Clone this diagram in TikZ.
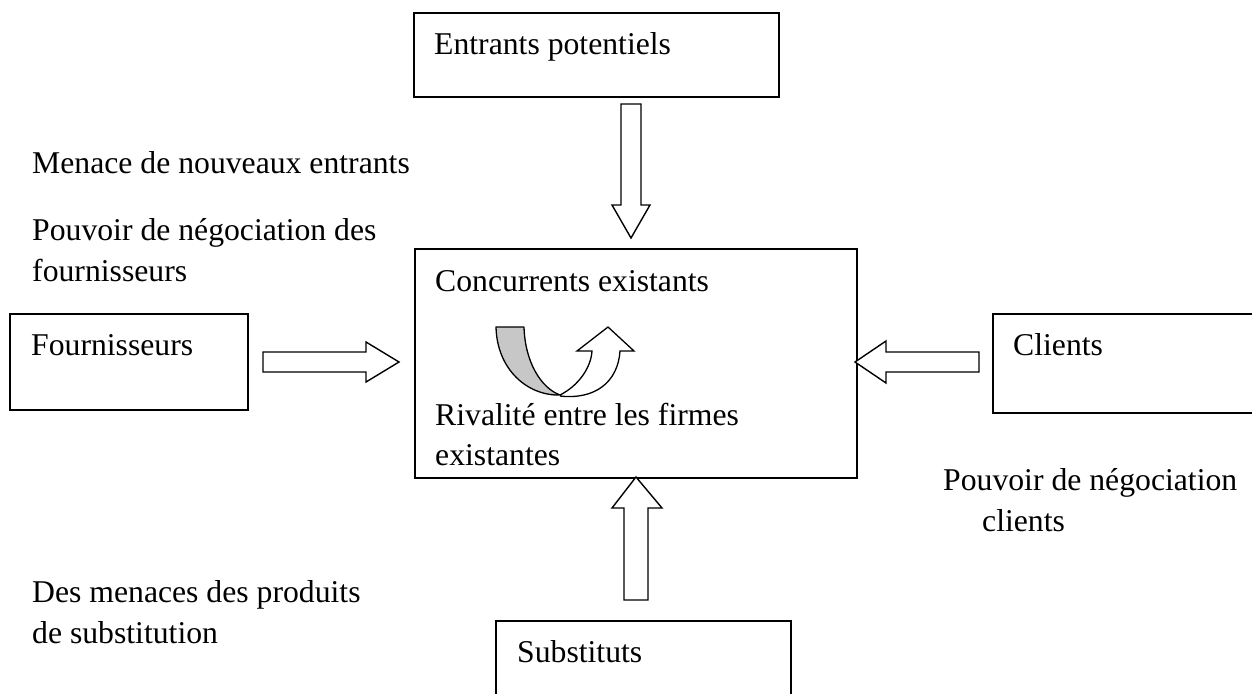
\documentclass[tikz,border=0pt]{standalone}
\usepackage{fontspec}
\setmainfont{Liberation Serif}
\begin{document}
\begin{tikzpicture}[x=1pt,y=-1pt,
  box/.style={draw,line width=1.6pt,rectangle,inner sep=0pt,anchor=north west},
  lbl/.style={anchor=base west,inner sep=0pt,font=\fontsize{31.7}{40}\selectfont},
  barrow/.style={draw,line width=1.4pt,fill=white,line join=miter}]
\useasboundingbox (0,0) rectangle (1252,693);
\clip (0,0) rectangle (1252,693);
% boxes
\node[box,minimum width=365pt,minimum height=84pt] (entrants) at (413,12) {};
\node[box,minimum width=442pt,minimum height=229pt] (conc) at (414,248) {};
\node[box,minimum width=238pt,minimum height=96pt] (fourn) at (9,313) {};
\node[box,minimum width=275pt,minimum height=99pt] (clients) at (992,313) {};
\node[box,minimum width=295pt,minimum height=90pt] (subst) at (495,620) {};
% box texts
\node[lbl] (tEntr) at (434,55) {Entrants potentiels};
\node[lbl] (tConc) at (435,291) {Concurrents existants};
\node[lbl] (tRiv1) at (435,425) {Rivalité entre les firmes};
\node[lbl] (tRiv2) at (435,465) {existantes};
\node[lbl] (tFourn) at (31,355) {Fournisseurs};
\node[lbl] (tCli) at (1013,355) {Clients};
\node[lbl] (tSub) at (517,662) {Substituts};
% free labels
\node[lbl] (lMen) at (32,173) {Menace de nouveaux entrants};
\node[lbl] (lPf1) at (32,240) {Pouvoir de négociation des};
\node[lbl] (lPf2) at (32,281) {fournisseurs};
\node[lbl] (lPc1) at (943,490) {Pouvoir de négociation};
\node[lbl] (lPc2) at (982,531) {clients};
\node[lbl] (lDs1) at (32,602) {Des menaces des produits};
\node[lbl] (lDs2) at (32,643) {de substitution};
% block arrows
\draw[barrow] (621,104) -- (641,104) -- (641,205) -- (650,205) -- (631,238) -- (612,205) -- (621,205) -- cycle;
\draw[barrow] (263,352) -- (366,352) -- (366,342) -- (399,362) -- (366,382) -- (366,372) -- (263,372) -- cycle;
\draw[barrow] (979,352) -- (886,352) -- (886,341) -- (855,362) -- (886,383) -- (886,372) -- (979,372) -- cycle;
\draw[barrow] (624,600) -- (624,508) -- (612,508) -- (636,477) -- (662,508) -- (648,508) -- (648,600) -- cycle;
% U-turn arrow
\draw[line width=1.3pt,fill=black!22,line join=round] (496,327) -- (524,327) .. controls (525,362) and (541,388) .. (560,395) .. controls (528,396) and (497,370) .. (496,327) -- cycle;
\draw[line width=1.3pt,fill=white,line join=miter] (560,395) .. controls (578,386) and (591,368) .. (592,351) -- (577,351) -- (608,327) -- (634,351) -- (620,351) .. controls (618,382) and (595,400) .. (560,396);
\end{tikzpicture}
\end{document}
